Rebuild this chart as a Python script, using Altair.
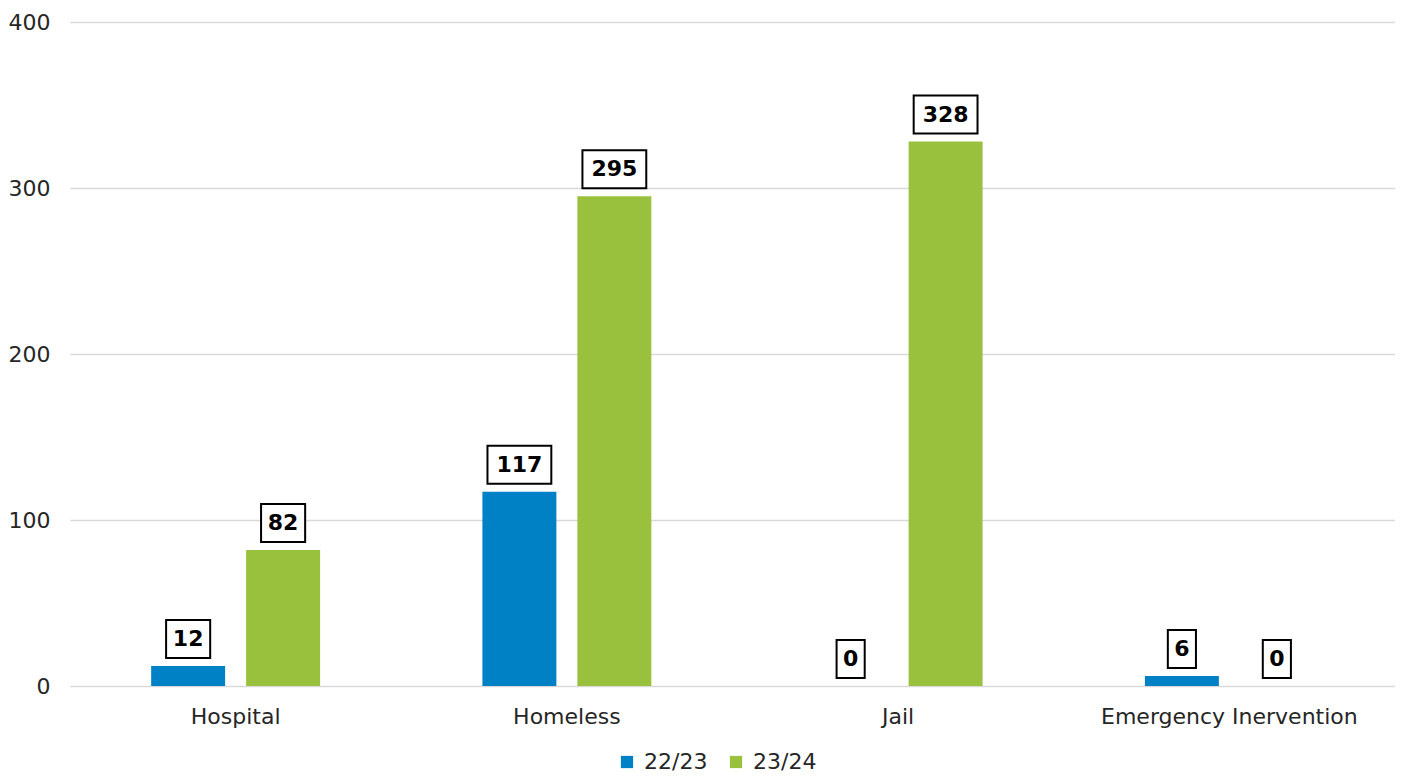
import altair as alt
import pandas as pd

categories = ["Hospital", "Homeless", "Jail", "Emergency Inervention"]
series = ["22/23", "23/24"]
values_2223 = [12, 117, 0, 6]
values_2324 = [82, 295, 328, 0]
colors = ["#0081C6", "#99C13D"]

rows = []
for c, a, b in zip(categories, values_2223, values_2324):
    rows.append({"cat": c, "series": series[0], "value": a})
    rows.append({"cat": c, "series": series[1], "value": b})
df = pd.DataFrame(rows)
df["label"] = df["value"].astype(str)
half_w = {1: 0.74, 2: 1.16, 3: 1.68}
df["box"] = df["label"].str.len().map(lambda n: f"M-{half_w[n]},-1H{half_w[n]}V1H-{half_w[n]}Z")

FONT = "DejaVu Sans"

x = alt.X("cat:N", sort=categories, title=None,
          scale=alt.Scale(paddingInner=0.49, paddingOuter=0.245),
          axis=alt.Axis(labelAngle=0, domain=False, ticks=False, labelPadding=20,
                        labelLimit=0, labelFontSize=22, labelColor="#262626",
                        labelFont=FONT))
xo = alt.XOffset("series:N", sort=series, scale=alt.Scale(paddingInner=0.221, paddingOuter=0))
y = alt.Y("value:Q", title=None,
          scale=alt.Scale(domain=[0, 400]),
          axis=alt.Axis(values=[0, 100, 200, 300, 400], domain=False, ticks=False,
                        labelPadding=20, labelFontSize=22, labelColor="#262626",
                        labelFont=FONT, gridColor="#d9d9d9", gridWidth=1.3))

base = alt.Chart(df)

bars = base.mark_bar().encode(
    x=x, xOffset=xo, y=y,
    color=alt.Color("series:N", sort=series,
                    scale=alt.Scale(domain=series, range=colors),
                    legend=alt.Legend(title=None, orient="none", legendX=546, legendY=729,
                                      direction="horizontal", symbolType="square",
                                      symbolSize=150, labelFontSize=22, labelFont=FONT,
                                      labelColor="#262626", columnPadding=17,
                                      labelOffset=6, padding=0)),
)

boxes = base.mark_point(filled=True, fill="white", stroke="black", strokeWidth=2,
                        opacity=1, size=1444, yOffset=-27).encode(
    x=x, xOffset=xo, y=y,
    shape=alt.Shape("box:N", scale=None),
)

labels = base.mark_text(fontWeight="bold", fontSize=22, font=FONT, color="black",
                        baseline="middle", dy=-27).encode(
    x=x, xOffset=xo, y=y, text="label:N",
)

chart = alt.layer(bars, boxes, labels).properties(
    width=1325, height=664,
    background="white",
    autosize=alt.AutoSizeParams(type="none"),
    padding={"left": 62, "top": 14, "right": 0, "bottom": 93},
).configure_view(stroke=None)

chart.save("out.html", embed_options={"renderer": "svg", "actions": False})
